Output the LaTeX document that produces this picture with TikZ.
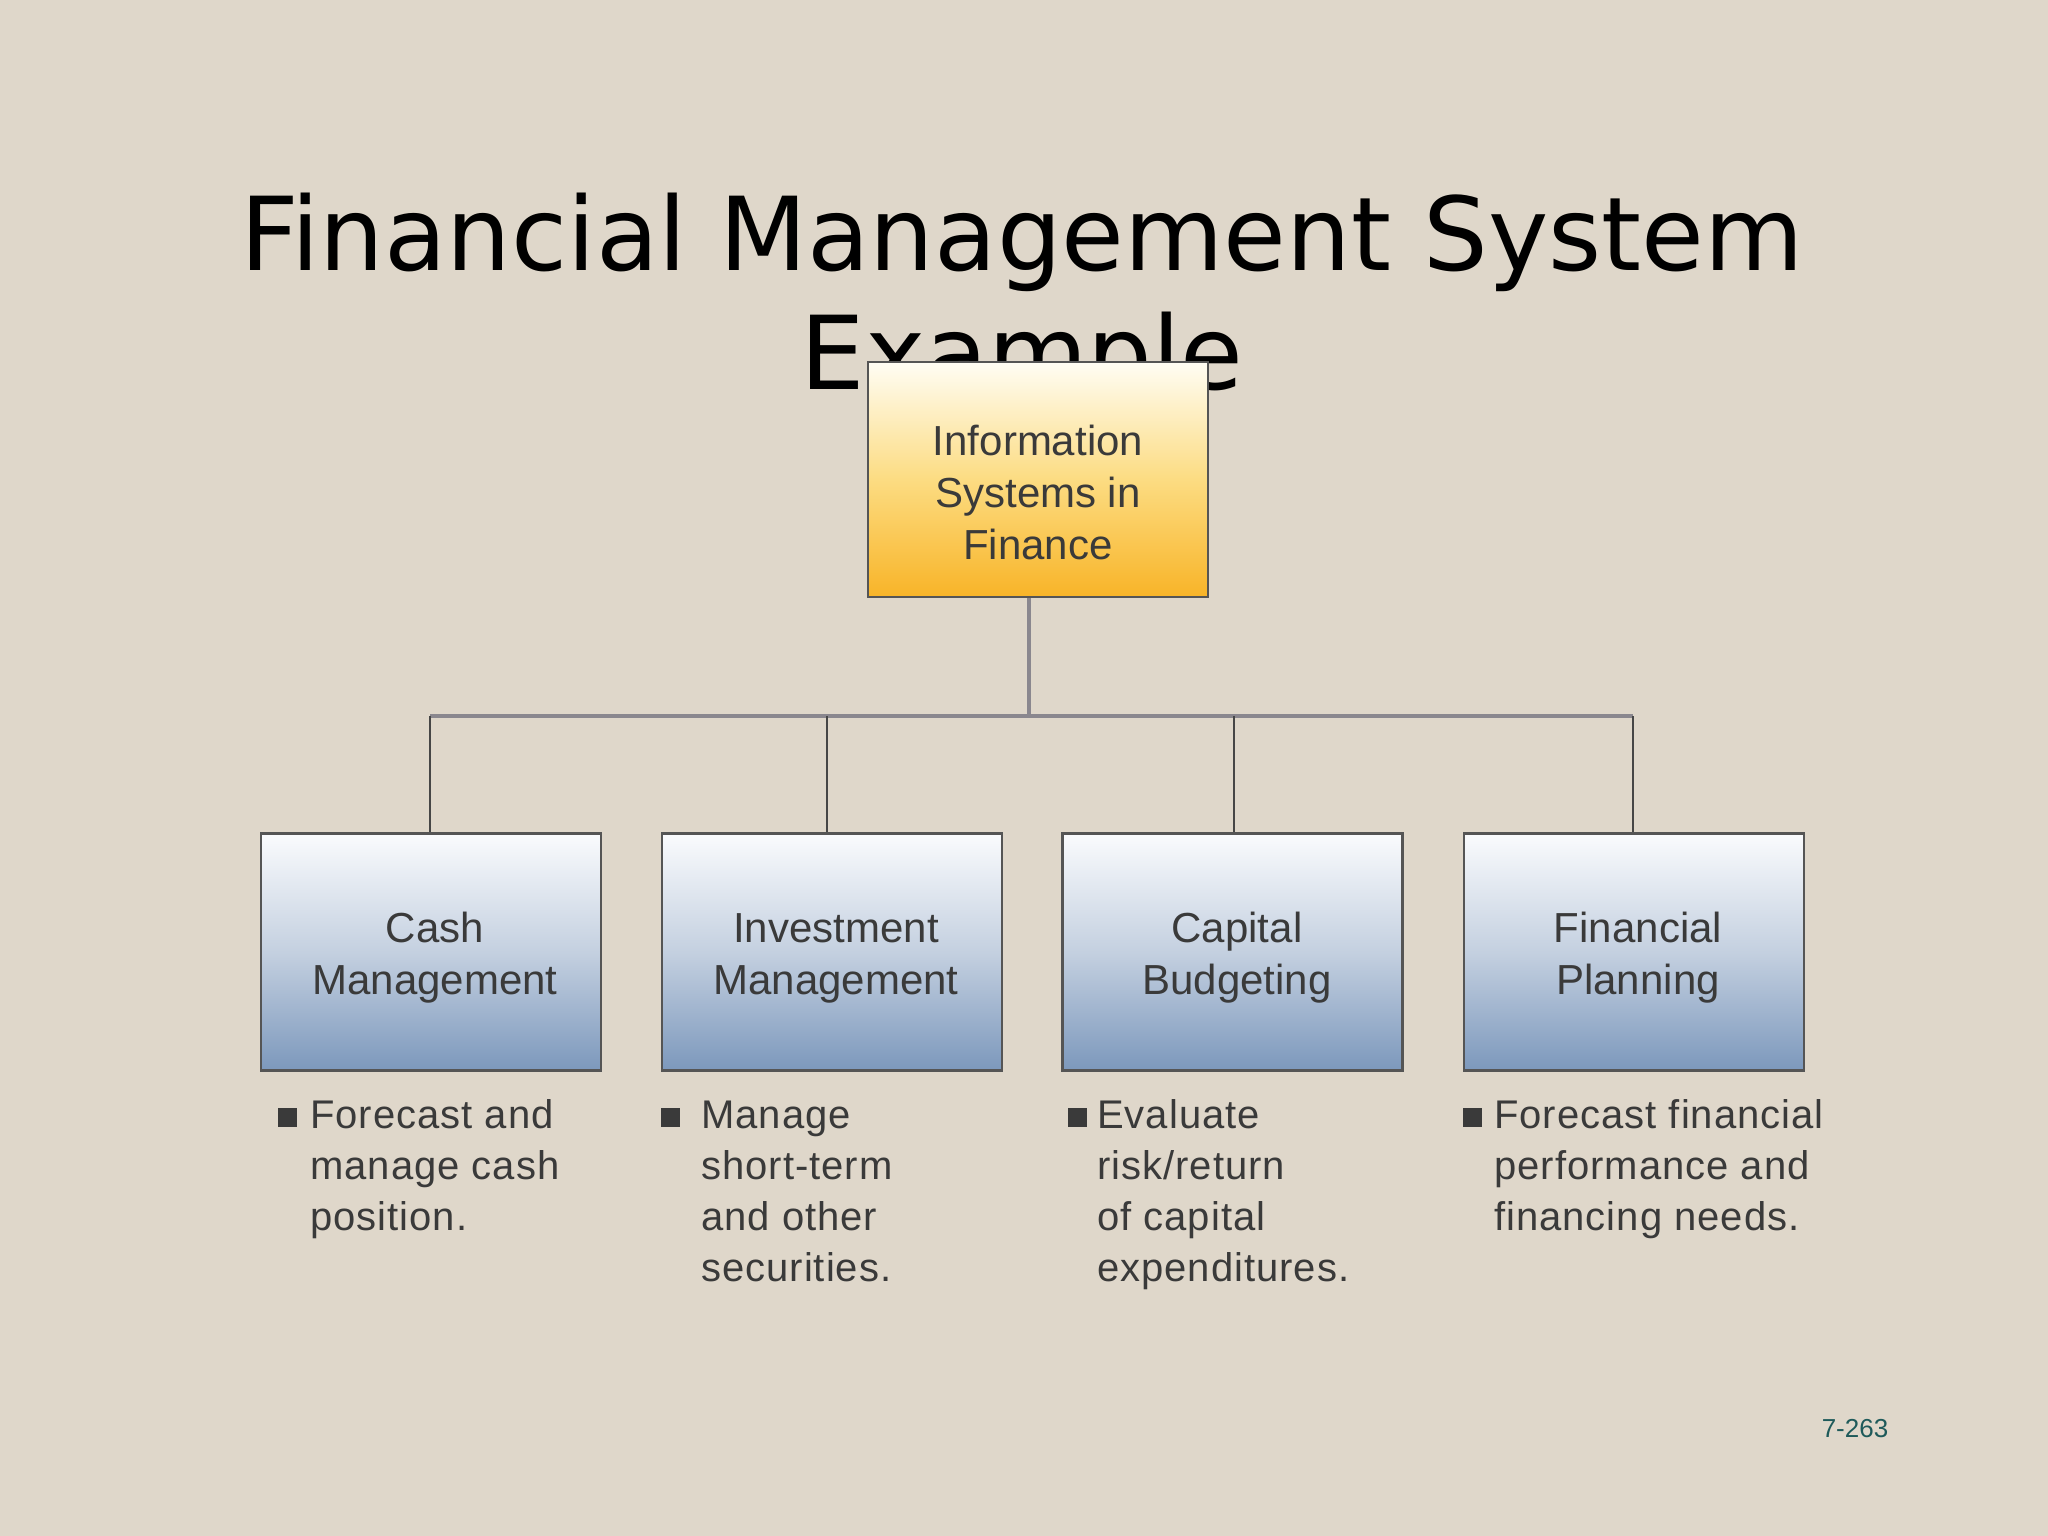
\documentclass[tikz,border=0pt]{standalone}
\usepackage{fontspec}
\setmainfont{Liberation Sans}
\newfontfamily\titlefont{DejaVu Sans}
\newfontfamily\bulfont[LetterSpace=2.5]{Liberation Sans}
\definecolor{bgc}{RGB}{223,215,202}
\definecolor{boxtxt}{RGB}{58,58,58}
\definecolor{bordc}{RGB}{85,85,85}
\definecolor{orgtop}{RGB}{255,253,244}
\definecolor{orgmid}{RGB}{252,220,130}
\definecolor{orgbot}{RGB}{248,180,40}
\definecolor{blutop}{RGB}{250,251,253}
\definecolor{blumid}{RGB}{196,208,224}
\definecolor{blubot}{RGB}{124,152,188}
\definecolor{trunkc}{RGB}{138,135,142}
\definecolor{dropc}{RGB}{70,70,70}
\definecolor{pagec}{RGB}{30,90,90}
\tikzset{
  boxtext/.style={font=\fontsize{42}{52}\selectfont, text=boxtxt, align=center, inner sep=0pt},
  topbox/.style={draw=bordc, line width=2.5pt, minimum width=340pt, minimum height=235pt,
     top color=orgtop, bottom color=orgbot, middle color=orgmid, inner sep=0pt},
  subbox/.style={draw=bordc, line width=2.5pt, minimum width=340pt, minimum height=237pt,
     top color=blutop, bottom color=blubot, middle color=blumid, inner sep=0pt},
  trunk/.style={draw=trunkc, line width=4pt},
  dropline/.style={draw=dropc, line width=1.6pt},
  bullettext/.style={font=\bulfont\fontsize{40}{51}\selectfont, text=boxtxt, align=left, anchor=base west, inner sep=0pt},
  bulletsq/.style={fill=boxtxt, draw=none, minimum size=19pt, inner sep=0pt, anchor=north west},
}
\begin{document}
\begin{tikzpicture}[x=1pt,y=-1pt]
\fill[bgc] (0,0) rectangle (2048,1536);
\useasboundingbox (0,0) rectangle (2048,1536);
% title (anchor base = baseline of last line)
\node[font=\titlefont\fontsize{102}{119}\selectfont, align=center, anchor=base, inner sep=0pt] (title) at (1022,389) {Financial Management System\\Example};
% top box
\node[topbox] (top) at (1038,479.5) {};
\node[boxtext] (topt) at (1038,492) {Information\\Systems in\\Finance};
% sub boxes
\node[subbox] (cash) at (431,952) {};
\node[subbox] (inv) at (832,952) {};
\node[subbox] (cap) at (1232.5,952) {};
\node[subbox] (plan) at (1634,952) {};
\node[boxtext] (casht) at (435,958) {Cash\\Management};
\node[boxtext] (invt) at (836,958) {Investment\\Management};
\node[boxtext] (capt) at (1237,958) {Capital\\Budgeting};
\node[boxtext] (plant) at (1638,958) {Financial\\Planning};
% connectors
\coordinate (hub) at (1029,716);
\draw[trunk] (top.south -| hub) -- (hub);
\draw[trunk] ([xshift=-1pt]cash.north |- hub) -- ([xshift=-1pt]plan.north |- hub);
\draw[dropline] ([xshift=-1pt]cash.north |- hub) -- ([xshift=-1pt]cash.north);
\draw[dropline] ([xshift=-5pt]inv.north |- hub) -- ([xshift=-5pt]inv.north);
\draw[dropline] ([xshift=1.5pt]cap.north |- hub) -- ([xshift=1.5pt]cap.north);
\draw[dropline] ([xshift=-1pt]plan.north |- hub) -- ([xshift=-1pt]plan.north);
% bullets
\node[bulletsq] (b1) at (278,1108) {};
\node[bullettext] (t1) at (310,1230) {Forecast and\\manage cash\\position.};
\node[bulletsq] (b2) at (661,1108) {};
\node[bullettext] (t2) at (701,1281) {Manage\\short-term\\and other\\securities.};
\node[bulletsq] (b3) at (1068,1108) {};
\node[bullettext] (t3) at (1097,1281) {Evaluate\\risk/return\\of capital\\expenditures.};
\node[bulletsq] (b4) at (1463,1108) {};
\node[bullettext] (t4) at (1494,1230) {Forecast financial\\performance and\\financing needs.};
% page number
\node[font=\fontsize{26}{30}\selectfont, text=pagec, anchor=base, inner sep=0pt] (pg) at (1855,1437) {7-263};
\end{tikzpicture}
\end{document}
